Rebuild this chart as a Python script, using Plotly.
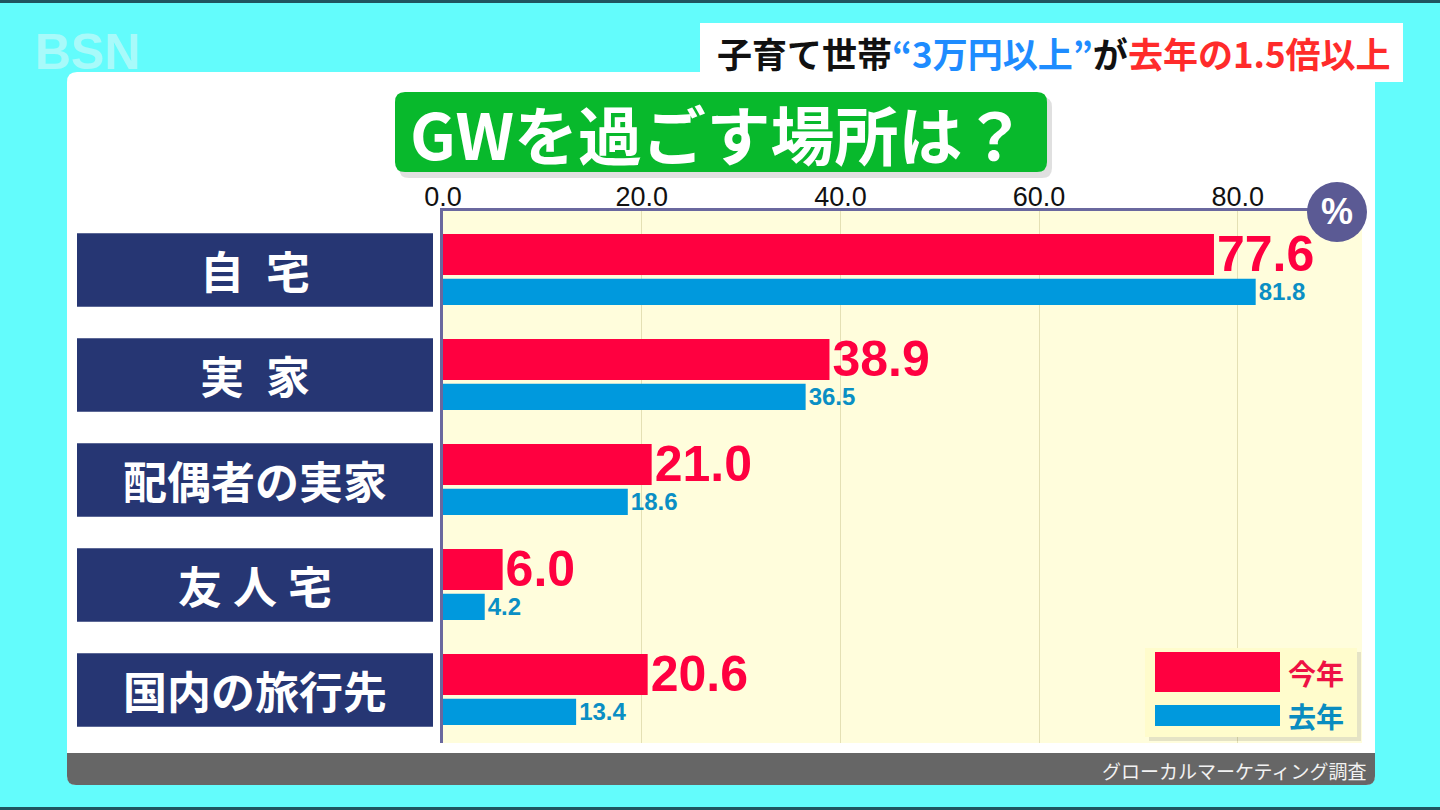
import plotly.graph_objects as go

# data
places = ['自宅', '実家', '配偶者の実家', '友人宅', '国内の旅行先']
place_labels = ['自\u2002宅', '実\u2002家', '配偶者の実家', '友\u2005人\u2005宅', '国内の旅行先']
this_year = [77.6, 38.9, 21.0, 6.0, 20.6]
last_year = [81.8, 36.5, 18.6, 4.2, 13.4]
x_ticks = [0, 20, 40, 60, 80]

W, H = 1440, 810
L, R, T, B = 443, 78, 211, 67
PW, PH = W - L - R, H - T - B

RED = '#ff0040'
BLUE = '#0099dd'
NAVY = '#263673'
JP = 'Noto Sans CJK JP'
NUM = 'Liberation Sans'


def px(x):
    return (x - L) / PW


def py(y):
    return (H - B - y) / PH


def rrect(x0, y0, x1, y1, r):
    # rounded rectangle path in paper coords, given pixel box
    rx, ry = r / PW, r / PH
    a, b, c, d = px(x0), py(y1), px(x1), py(y0)
    return (f'M{a+rx},{b} L{c-rx},{b} Q{c},{b} {c},{b+ry} L{c},{d-ry} Q{c},{d} {c-rx},{d} '
            f'L{a+rx},{d} Q{a},{d} {a},{d-ry} L{a},{b+ry} Q{a},{b} {a+rx},{b} Z')


def note(x, y, text, size, color, family=JP, anchor='center', **kw):
    return dict(xref='paper', yref='paper', x=px(x), y=py(y), text=text, showarrow=False,
                xanchor=anchor, yanchor='middle',
                font=dict(family=family, size=size, color=color, **kw))


fig = go.Figure()

fig.add_trace(go.Bar(
    y=places, x=this_year, orientation='h', name='今年',
    marker=dict(color=RED, line_width=0),
    width=0.39, offset=-0.343,
    text=this_year, texttemplate='%{x:.1f}', textposition='outside',
    textfont=dict(family=NUM, size=50, color=RED, weight='bold'),
    constraintext='none', cliponaxis=False,
))
fig.add_trace(go.Bar(
    y=places, x=last_year, orientation='h', name='去年',
    marker=dict(color=BLUE, line_width=0),
    width=0.25, offset=0.083,
    text=last_year, texttemplate='%{x:.1f}', textposition='outside',
    textfont=dict(family=NUM, size=24, color='#0a8fc4', weight='bold'),
    constraintext='none', cliponaxis=False,
))

shapes = []
# white panel + grey source strip + yellow plot area
shapes.append(dict(type='path', path=rrect(67, 72, 1375, 785, 10), xref='paper', yref='paper',
                   fillcolor='white', line_width=0, layer='below'))
shapes.append(dict(type='path', path=rrect(67, 753, 1375, 785, 9), xref='paper', yref='paper',
                   fillcolor='#666666', line_width=0, layer='below'))
shapes.append(dict(type='rect', x0=px(67), x1=px(1375), y0=py(770), y1=py(753), xref='paper', yref='paper',
                   fillcolor='#666666', line_width=0, layer='below'))
shapes.append(dict(type='rect', x0=0, x1=1, y0=0, y1=1, xref='paper', yref='paper',
                   fillcolor='#fffddc', line_width=0, layer='below'))
# thin dark frame lines at top and bottom of the screen
shapes.append(dict(type='rect', x0=px(0), x1=px(W), y0=py(3), y1=py(0), xref='paper', yref='paper',
                   fillcolor='#1f5560', line_width=0))
shapes.append(dict(type='rect', x0=px(0), x1=px(W), y0=py(810), y1=py(807), xref='paper', yref='paper',
                   fillcolor='#1f5560', line_width=0))

# category label boxes
for i, lab in enumerate(places):
    shapes.append(dict(type='rect', xref='paper', yref='y', x0=px(77), x1=px(433),
                       y0=i - 0.35, y1=i + 0.35, fillcolor=NAVY, line_width=0))

# caption box, title box with shadow
shapes.append(dict(type='rect', x0=px(700), x1=px(1403), y0=py(82), y1=py(23), xref='paper', yref='paper',
                   fillcolor='white', line_width=0))
shapes.append(dict(type='path', path=rrect(399, 97, 1052, 178, 10), xref='paper', yref='paper',
                   fillcolor='rgba(0,0,0,0.12)', line_width=0))
shapes.append(dict(type='path', path=rrect(395, 92, 1047, 172, 10), xref='paper', yref='paper',
                   fillcolor='#08b92c', line_width=0))
# % badge
shapes.append(dict(type='circle', x0=px(1307), x1=px(1367), y0=py(242), y1=py(182), xref='paper', yref='paper',
                   fillcolor='#5b5a94', line_width=0))
# legend box
shapes.append(dict(type='rect', x0=px(1149), x1=px(1361), y0=py(741), y1=py(652), xref='paper', yref='paper',
                   fillcolor='rgba(0,0,0,0.10)', line_width=0))
shapes.append(dict(type='rect', x0=px(1145), x1=px(1357), y0=py(737), y1=py(648), xref='paper', yref='paper',
                   fillcolor='#fffccc', line_width=0))
shapes.append(dict(type='rect', x0=px(1155), x1=px(1280), y0=py(692), y1=py(652), xref='paper', yref='paper',
                   fillcolor=RED, line_width=0))
shapes.append(dict(type='rect', x0=px(1155), x1=px(1280), y0=py(726), y1=py(705), xref='paper', yref='paper',
                   fillcolor=BLUE, line_width=0))

annotations = []
for i, lab in enumerate(place_labels):
    annotations.append(dict(xref='paper', yref='y', x=px(255), y=i, text=lab, showarrow=False,
                            xanchor='center', yanchor='middle',
                            font=dict(family=JP, size=44, color='white', weight='bold')))
annotations += [
    note(1054, 52, '子育て世帯<span style="color:#1e8cff">“3万円以上”</span>が'
                   '<span style="color:#ff2b2b">去年の1.5倍以上</span>', 35, '#111111', weight='bold'),
    note(718, 132, 'GWを過ごす場所は？', 64, 'white', weight='bold'),
    note(1337, 212, '%', 36, 'white', family=NUM, weight='bold'),
    note(1316, 673, '今年', 28, '#ee1144', weight='bold'),
    note(1316, 716, '去年', 28, '#0a8cc0', weight='bold'),
    note(1368, 770, 'グローカルマーケティング調査', 19, '#f2f2f2', anchor='right'),
    note(88, 52, 'BSN', 50, 'rgba(215,248,248,0.6)', family=NUM, weight='bold'),
]

fig.update_layout(
    width=W, height=H,
    margin=dict(l=L, r=R, t=T, b=B, autoexpand=False),
    paper_bgcolor='#63fcfc',
    plot_bgcolor='rgba(0,0,0,0)',
    barmode='overlay',
    showlegend=False,
    shapes=shapes,
    annotations=annotations,
    xaxis=dict(
        side='top', range=[0, 92.5], tickvals=x_ticks, tickformat='.1f',
        showgrid=True, gridcolor='#e4e0b4', gridwidth=1, zeroline=False,
        showline=True, linecolor='#6a689e', linewidth=3, ticks='',
        ticklabelstandoff=-9,
        tickfont=dict(family=NUM, size=27, color='#111111'),
    ),
    yaxis=dict(
        type='category', categoryorder='array', categoryarray=places,
        range=[4.505, -0.562], showticklabels=False, showgrid=False, zeroline=False,
        showline=True, linecolor='#6a689e', linewidth=3, ticks='',
    ),
)

fig.write_html('out.html', config={'displayModeBar': False},
               post_script="document.body.style.margin='0';")
